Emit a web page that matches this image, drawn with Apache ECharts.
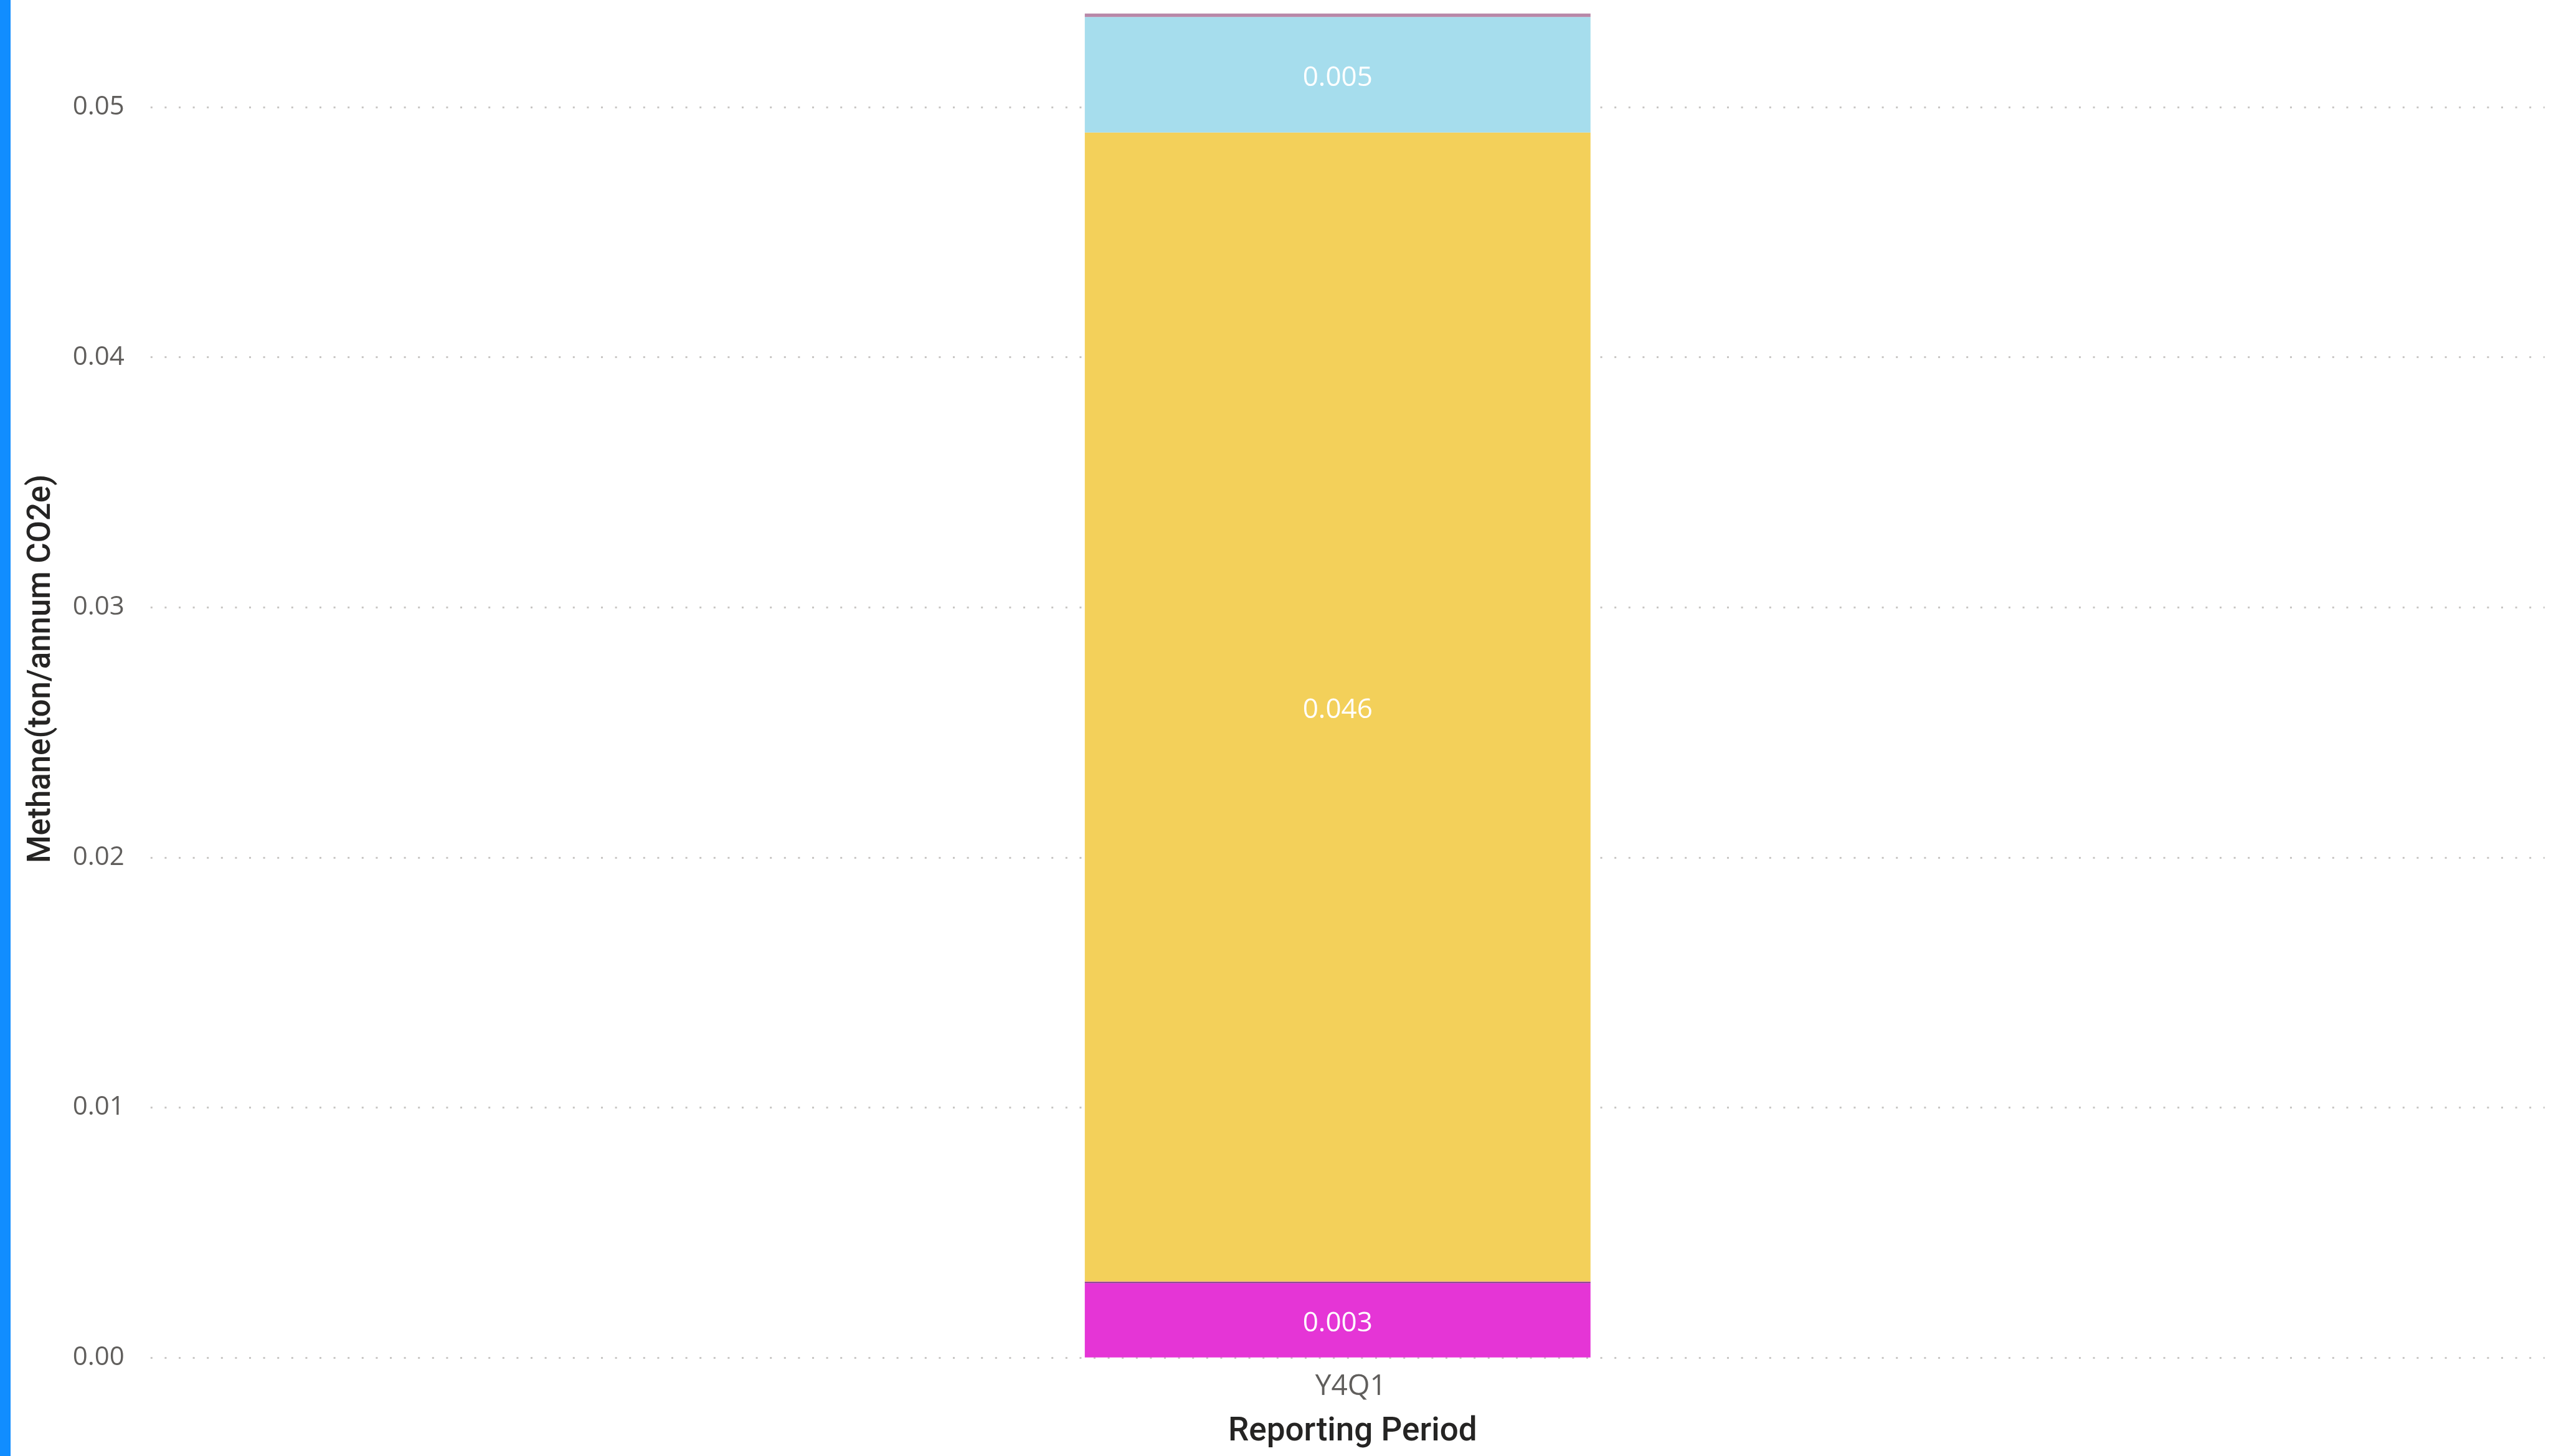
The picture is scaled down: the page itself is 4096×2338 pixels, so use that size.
<!DOCTYPE html>
<html>
<head>
<meta charset="utf-8">
<script src="https://cdn.jsdelivr.net/npm/echarts@6/dist/echarts.min.js"></script>
<style>
  html, body { margin: 0; padding: 0; background: #ffffff; }
  #chart { width: 4096px; height: 2338px; }
</style>
</head>
<body>
<div id="chart"></div>
<script>
// Reporting periods on the category axis
const categories = ['Y4Q1'];

// Methane contribution per source (ton/annum CO2e), stacked bottom to top
const sourceMagenta = [0.00298];
const sourceDarkPurple = [0.00004];
const sourceSalmon = [0.00003];
const sourceYellow = [0.04594];
const sourceBlue = [0.00462];
const sourceMauve = [0.00014];

// Value axis ticks
const yTicks = { min: 0, max: 0.05, interval: 0.01 };

const BAR_WIDTH = 812;
const BAR_GAP = '-96.06%';

const labelStyle = {
  show: true,
  position: 'inside',
  offset: [0, 5],
  color: '#ffffff',
  fontFamily: 'Open Sans',
  fontSize: 44,
  formatter: p => p.value.toFixed(3)
};

function stackSeries(name, data, color, showLabel) {
  return {
    name: name,
    type: 'bar',
    stack: 'methane',
    data: data,
    barWidth: BAR_WIDTH,
    barGap: BAR_GAP,
    clip: false,
    itemStyle: { color: color },
    label: showLabel ? labelStyle : { show: false },
    emphasis: { disabled: true }
  };
}

const chart = echarts.init(document.getElementById('chart'), null, { renderer: 'canvas' });

chart.setOption({
  animation: false,
  backgroundColor: '#ffffff',
  grid: { left: 241.8, right: 10.2, top: 172.2, bottom: 158.2 },
  xAxis: {
    type: 'category',
    data: categories,
    axisLine: { show: false },
    axisTick: { show: false },
    splitLine: { show: false },
    axisLabel: {
      color: '#605E5C',
      fontFamily: 'Open Sans',
      fontSize: 46,
      margin: 47,
      verticalAlign: 'middle',
      padding: [0, 0, 0, 10]
    },
    name: 'Reporting Period',
    nameLocation: 'middle',
    nameGap: 120,
    nameTextStyle: {
      fontFamily: 'Roboto',
      fontWeight: 500,
      fontSize: 53,
      color: '#252423',
      verticalAlign: 'middle',
      padding: [0, 0, 0, 16]
    }
  },
  yAxis: {
    type: 'value',
    min: yTicks.min,
    max: yTicks.max,
    interval: yTicks.interval,
    axisLine: { show: false },
    axisTick: { show: false },
    axisLabel: {
      color: '#605E5C',
      fontFamily: 'Open Sans',
      fontSize: 42,
      margin: 42,
      padding: [3, 0, 0, 0],
      formatter: v => v.toFixed(2)
    },
    splitLine: {
      show: true,
      lineStyle: { color: '#C8C6C4', width: 3, type: [3, 19.6] }
    }
  },
  series: [
    stackSeries('Source 1', sourceMagenta, '#E535D6', true),
    stackSeries('Source 2', sourceDarkPurple, '#6B2C86', false),
    stackSeries('Source 3', sourceSalmon, '#E27F6E', false),
    stackSeries('Source 4', sourceYellow, '#F3D05A', true),
    stackSeries('Source 5', sourceBlue, '#A6DDED', true),
    stackSeries('Source 6', sourceMauve, '#B888A8', false),
    {
      // empty neighbour column that keeps the stacked column just left of the band centre
      type: 'bar',
      stack: 'neighbour',
      data: ['-'],
      barWidth: BAR_WIDTH,
      barGap: BAR_GAP,
      silent: true
    }
  ],
  graphic: [
    {
      type: 'rect',
      shape: { x: 0, y: 0, width: 17, height: 2338 },
      style: { fill: '#118DFF' },
      silent: true
    },
    {
      type: 'text',
      x: 67,
      y: 1074,
      rotation: Math.PI / 2,
      style: {
        text: 'Methane(ton/annum CO2e)',
        fontFamily: 'Roboto',
        fontWeight: 500,
        fontSize: 51,
        fill: '#252423',
        align: 'center',
        verticalAlign: 'middle'
      },
      silent: true
    }
  ]
});
</script>
</body>
</html>
